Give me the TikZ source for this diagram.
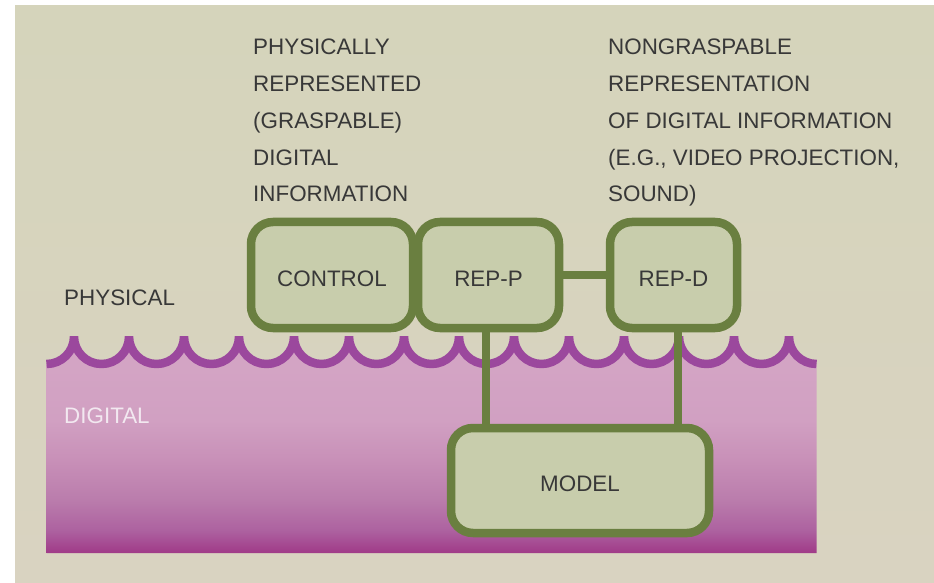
\documentclass[tikz,border=0pt]{standalone}
\usepackage{fontspec}
\setmainfont{Liberation Sans}
\definecolor{bgtop}{HTML}{D5D4BB}
\definecolor{bgbot}{HTML}{D9D3C1}
\definecolor{boxfill}{HTML}{C8CDAC}
\definecolor{boxdraw}{HTML}{6A7F40}
\definecolor{wavecol}{HTML}{9B489D}
\definecolor{txt}{HTML}{383838}
\definecolor{diglbl}{HTML}{F2E8F0}
\definecolor{pA}{HTML}{A03A88}
\definecolor{pB}{HTML}{AD62A0}
\definecolor{pC}{HTML}{BA7CAC}
\definecolor{pD}{HTML}{C890B8}
\definecolor{pE}{HTML}{D1A0C2}
\definecolor{pF}{HTML}{D3A4C4}
\pgfdeclareverticalshading{digishade}{100bp}{color(0bp)=(pA); color(25bp)=(pA); color(30.3bp)=(pB); color(37.2bp)=(pC); color(46.5bp)=(pD); color(55.7bp)=(pE); color(68bp)=(pF); color(100bp)=(pF)}
\tikzset{
  lbl/.style={font=\fontsize{22.4}{26}\selectfont, text=txt, inner sep=0pt, anchor=base west},
  boxnode/.style={draw=boxdraw, fill=boxfill, line width=8.5pt, rounded corners=22pt,
    font=\fontsize{22.4}{26}\selectfont, text=txt, text height=22pt, text depth=0pt, inner sep=0pt},
  conn/.style={draw=boxdraw, line width=8.5pt},
  wave/.style={draw=wavecol, line width=8.5pt, line join=bevel}
}
\begin{document}
\begin{tikzpicture}[x=1pt,y=1pt]
\useasboundingbox (0,0) rectangle (934,582);
\fill[white] (0,0) rectangle (934,582);
\shade[top color=bgtop, bottom color=bgbot] (15,0) rectangle (934,576);
% digital region
\shade[shading=digishade] (46.5,218) arc[start angle=-90, end angle=0, radius=27.5]
  \foreach \k in {1,...,13} { arc[start angle=180, end angle=360, radius=27.5] }
  arc[start angle=180, end angle=270, radius=27.5] -- (816.5,29) -- (46.5,29) -- cycle;
\draw[wave] (46.5,218) arc[start angle=-90, end angle=0, radius=27.5]
  \foreach \k in {1,...,13} { arc[start angle=180, end angle=360, radius=27.5] }
  arc[start angle=180, end angle=270, radius=27.5];
% boxes
\node[boxnode, minimum width=162pt, minimum height=106pt] (control) at (332,307) {CONTROL};
\node[boxnode, minimum width=141pt, minimum height=106pt] (repp) at (488.5,307) {REP-P};
\node[boxnode, minimum width=127pt, minimum height=106pt] (repd) at (673.5,307) {REP-D};
\node[boxnode, minimum width=258pt, minimum height=105pt] (model) at (580,101.5) {MODEL};
% connectors
\draw[conn] (repp.east) -- (repd.west);
\draw[conn] ([xshift=-2.5pt]repp.south) -- ([xshift=-2.5pt]repp.south |- model.north);
\draw[conn] ([xshift=4.5pt]repd.south) -- ([xshift=4.5pt]repd.south |- model.north);
% texts
\node[lbl] (l1) at (253,527) {PHYSICALLY};
\node[lbl] (l2) at (253,490.3) {REPRESENTED};
\node[lbl] (l3) at (253,453.6) {(GRASPABLE)};
\node[lbl] (l4) at (253,416.9) {DIGITAL};
\node[lbl] (l5) at (253,380.2) {INFORMATION};
\node[lbl] (r1) at (608,527) {NONGRASPABLE};
\node[lbl] (r2) at (608,490.3) {REPRESENTATION};
\node[lbl] (r3) at (608,453.6) {OF DIGITAL INFORMATION};
\node[lbl] (r4) at (608,416.9) {(E.G., VIDEO PROJECTION,};
\node[lbl] (r5) at (608,380.2) {SOUND)};
\node[lbl] (phys) at (64,277) {PHYSICAL};
\node[lbl, text=diglbl] (digl) at (64,159) {DIGITAL};
\end{tikzpicture}
\end{document}
